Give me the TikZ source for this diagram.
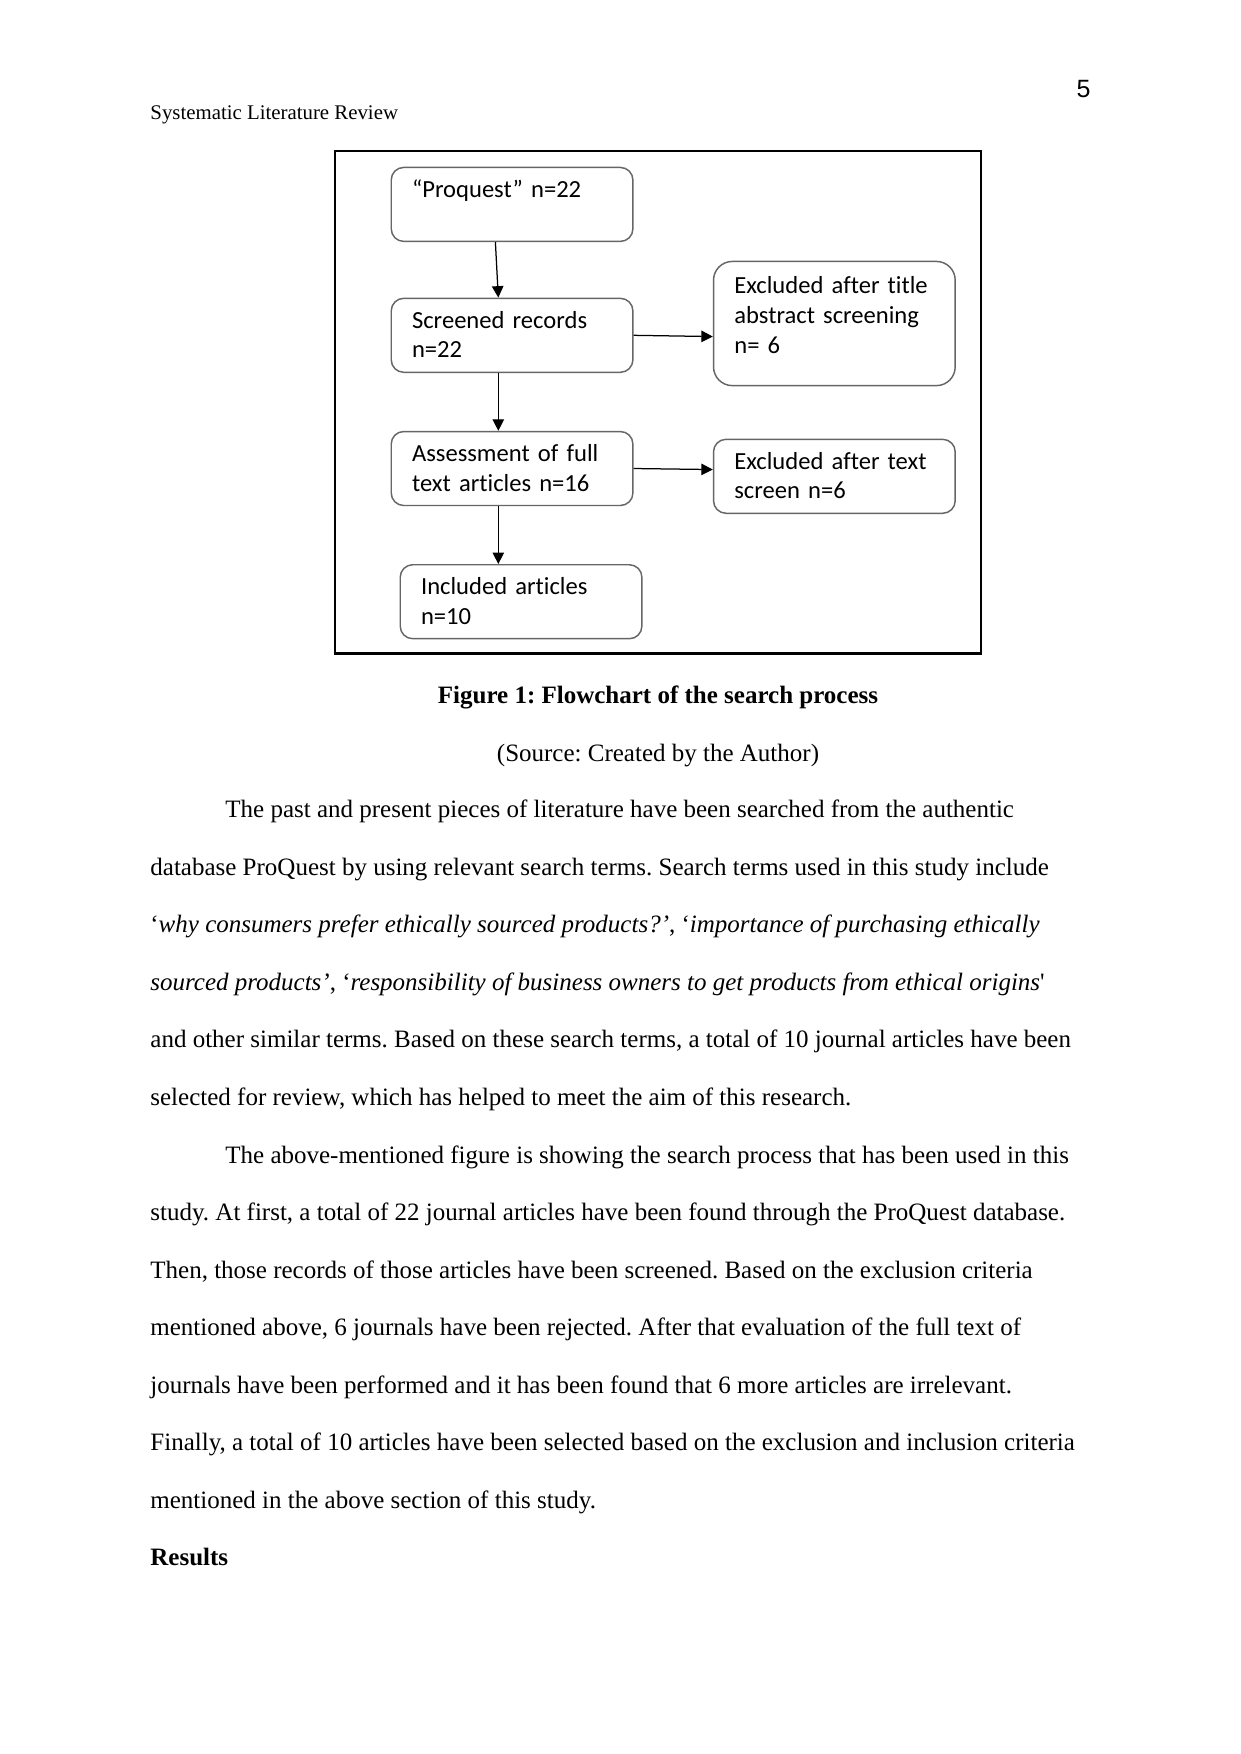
\documentclass[tikz,border=0pt]{standalone}
\usepackage{fontspec}
\setmainfont{Liberation Serif}
\newfontfamily\boxfont[Ligatures=NoCommon]{Carlito}
\newfontfamily\numfont{Liberation Sans}
\usetikzlibrary{arrows.meta}
\frenchspacing

\tikzset{
  stepbox/.style={draw=black!60, line width=0.7pt, rounded corners=6pt,
    anchor=north west, align=left, text width=96pt, inner xsep=10pt, inner ysep=0pt,
    text height=14.4pt, text depth=21.1pt, font=\boxfont\fontsize{11.8}{14.2}\selectfont},
  tallbox/.style={stepbox, rounded corners=9pt, text height=15.6pt, text depth=44pt},
  flow/.style={-{Triangle[length=5.5pt,width=5.5pt]}, line width=0.6pt},
  textline/.style={anchor=base west, inner sep=0pt, font=\fontsize{12}{14}\selectfont},
}

\begin{document}
\begin{tikzpicture}[x=0.48pt, y=-0.48pt]
    \useasboundingbox[fill=white] (0,0) rectangle (1241,1754);

    % running head
    \node[anchor=base west, inner sep=0pt, font=\fontsize{10}{12}\selectfont] (head) at (150,119) {Systematic Literature Review};
    \node[anchor=base east, inner sep=0pt, font=\numfont\fontsize{12}{14}\selectfont] (pagenum) at (1091,97) {5};

    % figure frame
    \draw[line width=1pt] (334.6,151) rectangle (981.4,653.5);

    % flowchart boxes
    \node[stepbox] (proquest) at (390.5,166.7) {“Proquest” n=22};
    \node[stepbox] (screened) at (390.5,297.6) {Screened records\\ n=22};
    \node[tallbox] (excltitle) at (712.8,260.7) {Excluded after title\\ abstract screening\\ n= 6};
    \node[stepbox] (assess) at (390.5,430.8) {Assessment of full\\ text articles n=16};
    \node[stepbox] (excltext) at (712.8,438.6) {Excluded after text\\ screen n=6};
    \node[stepbox] (included) at (399.5,564) {Included articles\\ n=10};

    % connectors
    \draw[flow] ([xshift=-8pt]proquest.south) -- ([xshift=-6.6pt]screened.north);
    \draw[flow] ([xshift=-6.6pt]screened.south) -- ([xshift=-6.6pt]assess.north);
    \draw[flow] ([xshift=-6.6pt]assess.south) -- ([xshift=-6.6pt]assess.south |- included.north);
    \draw[flow] (screened.east) -- ([yshift=-0.6pt]screened.east -| excltitle.west);
    \draw[flow] (assess.east) -- ([yshift=-0.5pt]assess.east -| excltext.west);

    % caption
    \node[anchor=base, inner sep=0pt, font=\bfseries\fontsize{12}{14}\selectfont] (caption) at (658,703) {Figure 1: Flowchart of the search process};
    \node[anchor=base, inner sep=0pt, font=\fontsize{12}{14}\selectfont] (source) at (658,761) {(Source: Created by the Author)};

    % first paragraph
    \node[textline] (p1a) at (225,817.7) {The past and present pieces of literature have been searched from the authentic};
    \node[textline] (p1b) at (150,875.2) {database ProQuest by using relevant search terms. Search terms used in this study include};
    \node[textline] (p1c) at (150,932.7) {‘\textit{why consumers prefer ethically sourced products?’}, ‘\textit{importance of purchasing ethically}};
    \node[textline] (p1d) at (150,990.2) {\textit{sourced products’}, ‘\textit{responsibility of business owners to get products from ethical origins}\textquotesingle};
    \node[textline] (p1e) at (150,1047.7) {and other similar terms. Based on these search terms, a total of 10 journal articles have been};
    \node[textline] (p1f) at (150,1105.2) {selected for review, which has helped to meet the aim of this research.};

    % second paragraph
    \node[textline] (p2a) at (225,1163) {The above-mentioned figure is showing the search process that has been used in this};
    \node[textline] (p2b) at (150,1220.5) {study. At first, a total of 22 journal articles have been found through the ProQuest database.};
    \node[textline] (p2c) at (150,1278) {Then, those records of those articles have been screened. Based on the exclusion criteria};
    \node[textline] (p2d) at (150,1335.5) {mentioned above, 6 journals have been rejected. After that evaluation of the full text of};
    \node[textline] (p2e) at (150,1393) {journals have been performed and it has been found that 6 more articles are irrelevant.};
    \node[textline] (p2f) at (150,1450.5) {Finally, a total of 10 articles have been selected based on the exclusion and inclusion criteria};
    \node[textline] (p2g) at (150,1508) {mentioned in the above section of this study.};

    \node[textline, font=\bfseries\fontsize{12}{14}\selectfont] (results) at (150,1565.5) {Results};
\end{tikzpicture}
\end{document}
